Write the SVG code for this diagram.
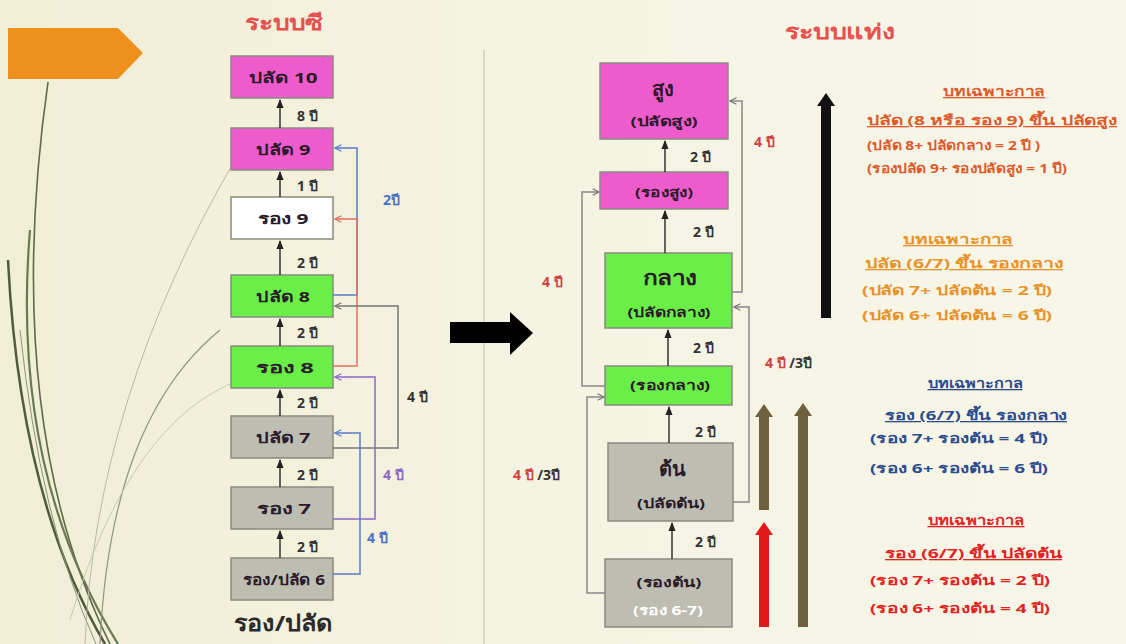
<svg xmlns="http://www.w3.org/2000/svg" width="1126" height="644" viewBox="0 0 1126 644">
<defs>
<linearGradient id="bg" x1="0" y1="0" x2="1" y2="0">
<stop offset="0" stop-color="#f1eed6"/>
<stop offset="0.5" stop-color="#f5f3e2"/>
<stop offset="1" stop-color="#f8f6e8"/>
</linearGradient>
<marker id="aDark" viewBox="0 0 10 10" refX="9" refY="5" markerWidth="6" markerHeight="6" orient="auto"><path d="M0 1 L10 5 L0 9 Z" fill="#222"/></marker>
<marker id="aGray" viewBox="0 0 10 10" refX="9" refY="5" markerWidth="8" markerHeight="8" orient="auto" markerUnits="userSpaceOnUse"><path d="M1 1 L9 5 L1 9" fill="none" stroke="#777" stroke-width="1.6"/></marker>
<marker id="aBlue" viewBox="0 0 10 10" refX="9" refY="5" markerWidth="8" markerHeight="8" orient="auto" markerUnits="userSpaceOnUse"><path d="M1 1 L9 5 L1 9" fill="none" stroke="#5a7cc8" stroke-width="1.6"/></marker>
<marker id="aRed" viewBox="0 0 10 10" refX="9" refY="5" markerWidth="8" markerHeight="8" orient="auto" markerUnits="userSpaceOnUse"><path d="M1 1 L9 5 L1 9" fill="none" stroke="#e07060" stroke-width="1.6"/></marker>
<marker id="aPurple" viewBox="0 0 10 10" refX="9" refY="5" markerWidth="8" markerHeight="8" orient="auto" markerUnits="userSpaceOnUse"><path d="M1 1 L9 5 L1 9" fill="none" stroke="#8a68c8" stroke-width="1.6"/></marker>
</defs>
<style>
text{font-family:"Noto Sans","DejaVu Sans","Liberation Sans",sans-serif;font-weight:bold}
.box{stroke:#8a8a80;stroke-width:1.5}
.mag{fill:#ee5ccc}
.grn{fill:#6aee48}
.wht{fill:#ffffff}
.gry{fill:#bdbdb2}
.bl{font-size:15px;fill:#2a1a2a;text-anchor:middle}
.bs{font-size:13px;fill:#2a1a2a;text-anchor:middle}
.bw{font-size:13px;fill:#ffffff;text-anchor:middle}
.big{font-size:20px;fill:#2a1a2a;text-anchor:middle}
.yr{font-size:14px}
.k{fill:#333333}
.rd{fill:#d04040}
.bu{fill:#4a70c8}
.pu{fill:#8a68c8}
.ln{fill:none;stroke-width:1.5}
.note{font-size:13px}
.c1{fill:#dc5a2c}
.c2{fill:#e8922c}
.c3{fill:#2c4c8c}
.c4{fill:#e02424}
.title{font-size:21px;fill:#e65050;text-anchor:middle}
</style>
<rect width="1126" height="644" fill="url(#bg)"/>
<g id="decor" fill="none">
<path d="M48 82 Q 0 420 110 644" stroke="#5d6a48" stroke-width="1.6"/>
<path d="M30 230 Q 10 470 118 644" stroke="#6a7a50" stroke-width="2.2"/>
<path d="M8 260 Q 20 500 105 644" stroke="#4e5c3c" stroke-width="2.5"/>
<path d="M20 330 Q 40 520 96 644" stroke="#8a9478" stroke-width="1"/>
<path d="M85 644 Q 95 400 235 160" stroke="#b8b8a4" stroke-width="1"/>
<path d="M100 644 Q 110 420 220 330" stroke="#8c9680" stroke-width="1.2"/>
<path d="M70 620 Q 130 420 240 380" stroke="#c8c8b8" stroke-width="1"/>
<polygon points="8,28 118,28 143,53 118,79 8,79" fill="#f0901c"/>
<line x1="484" y1="50" x2="484" y2="644" stroke="#cfcdc0" stroke-width="1.5"/>
<polygon points="450,322 510,322 510,312 533,333 510,355 510,343 450,343" fill="#000"/>
</g>
<text class="title" x="284" y="30" textLength="78" lengthAdjust="spacingAndGlyphs">ระบบซี</text>
<text class="title" x="840" y="39" textLength="110" lengthAdjust="spacingAndGlyphs">ระบบแท่ง</text>
<g id="n-p10"><rect class="box mag" x="231" y="56" width="102" height="42"/><text class="bl" x="283" y="83" textLength="69" lengthAdjust="spacingAndGlyphs">ปลัด 10</text></g>
<g id="n-p9"><rect class="box mag" x="231" y="128" width="102" height="42"/><text class="bl" x="283" y="155" textLength="55" lengthAdjust="spacingAndGlyphs">ปลัด 9</text></g>
<g id="n-r9"><rect class="box wht" x="231" y="197" width="102" height="42"/><text class="bl" x="283" y="224" textLength="51" lengthAdjust="spacingAndGlyphs">รอง 9</text></g>
<g id="n-p8"><rect class="box grn" x="231" y="275" width="102" height="42"/><text class="bl" x="283" y="302" textLength="54" lengthAdjust="spacingAndGlyphs">ปลัด 8</text></g>
<g id="n-r8"><rect class="box grn" x="231" y="346" width="102" height="42"/><text class="bl" x="285" y="373" textLength="58" lengthAdjust="spacingAndGlyphs">รอง 8</text></g>
<g id="n-p7"><rect class="box gry" x="231" y="416" width="102" height="42"/><text class="bl" x="283" y="443" textLength="55" lengthAdjust="spacingAndGlyphs">ปลัด 7</text></g>
<g id="n-r7"><rect class="box gry" x="231" y="487" width="102" height="42"/><text class="bl" x="284" y="514" textLength="54" lengthAdjust="spacingAndGlyphs">รอง 7</text></g>
<g id="n-rp6"><rect class="box gry" x="231" y="558" width="102" height="42"/><text class="bl" x="284" y="585" textLength="82" lengthAdjust="spacingAndGlyphs">รอง/ปลัด 6</text></g>
<text x="283" y="631" font-size="22" fill="#2a2a2a" text-anchor="middle" textLength="99" lengthAdjust="spacingAndGlyphs">รอง/ปลัด</text>
<g id="n-high"><rect class="box mag" x="600" y="63" width="128" height="76"/><text class="big" x="663" y="96">สูง</text><text class="bs" x="664" y="126" textLength="67" lengthAdjust="spacingAndGlyphs">(ปลัดสูง)</text></g>
<g id="n-rhigh"><rect class="box mag" x="600" y="172" width="128" height="37"/><text class="bs" x="664" y="197" textLength="58" lengthAdjust="spacingAndGlyphs">(รองสูง)</text></g>
<g id="n-mid"><rect class="box grn" x="605" y="253" width="127" height="75"/><text class="big" x="670" y="285" textLength="55" lengthAdjust="spacingAndGlyphs">กลาง</text><text class="bs" x="669" y="317" textLength="83" lengthAdjust="spacingAndGlyphs">(ปลัดกลาง)</text></g>
<g id="n-rmid"><rect class="box grn" x="605" y="366" width="127" height="39"/><text class="bs" x="670" y="390" textLength="80" lengthAdjust="spacingAndGlyphs">(รองกลาง)</text></g>
<g id="n-low"><rect class="box gry" x="608" y="443" width="125" height="78"/><text class="big" x="672" y="476">ต้น</text><text class="bs" x="671" y="508" textLength="68" lengthAdjust="spacingAndGlyphs">(ปลัดต้น)</text></g>
<g id="n-rlow"><rect class="box gry" x="605" y="559" width="127" height="68"/><text class="bs" x="669" y="587" textLength="65" lengthAdjust="spacingAndGlyphs">(รองต้น)</text><text class="bw" x="668" y="615" textLength="70" lengthAdjust="spacingAndGlyphs">(รอง 6-7)</text></g>
<g id="connectors">
<g stroke="#333" stroke-width="1.5" marker-end="url(#aDark)">
<line x1="280" y1="128" x2="280" y2="100"/>
<line x1="280" y1="197" x2="280" y2="172"/>
<line x1="280" y1="275" x2="280" y2="241"/>
<line x1="280" y1="346" x2="280" y2="319"/>
<line x1="280" y1="416" x2="280" y2="390"/>
<line x1="280" y1="487" x2="280" y2="460"/>
<line x1="280" y1="558" x2="280" y2="531"/>
<line x1="665" y1="172" x2="665" y2="141"/>
<line x1="665" y1="253" x2="665" y2="211"/>
<line x1="668" y1="366" x2="668" y2="330"/>
<line x1="669" y1="443" x2="669" y2="407"/>
<line x1="672" y1="559" x2="672" y2="523"/>
</g>
<path class="ln" d="M333 295 H357 V148 H335" stroke="#5a7cc8" marker-end="url(#aBlue)"/>
<path class="ln" d="M333 366 H357 V219 H335" stroke="#e07060" marker-end="url(#aRed)"/>
<path class="ln" d="M333 448 H398 V306 H335" stroke="#777" marker-end="url(#aGray)"/>
<path class="ln" d="M333 519 H375 V377 H335" stroke="#8a68c8" marker-end="url(#aPurple)"/>
<path class="ln" d="M333 574 H360 V433 H335" stroke="#5a7cc8" marker-end="url(#aBlue)"/>
<path class="ln" d="M732 292 H742 V101 H730" stroke="#888" marker-end="url(#aGray)"/>
<path class="ln" d="M605 386 H582 V192 H599" stroke="#888" marker-end="url(#aGray)"/>
<path class="ln" d="M605 593 H587 V397 H604" stroke="#888" marker-end="url(#aGray)"/>
<path class="ln" d="M733 502 H749 V307 H734" stroke="#888" marker-end="url(#aGray)"/>
<polygon points="821,318 821,106 817,106 826,93 835,106 831,106 831,318" fill="#111"/>
<polygon points="759,510 759,417 755,417 764,404 773,417 769,417 769,510" fill="#6e5f3e"/>
<polygon points="759,627 759,535 755,535 764,522 773,535 769,535 769,627" fill="#e41818"/>
<polygon points="798,627 798,416 794,416 803,403 812,416 808,416 808,627" fill="#6e5f3e"/>
</g>
<g id="labels" class="yr">
<text class="k" x="297" y="121">8 ปี</text>
<text class="k" x="297" y="191">1 ปี</text>
<text class="k" x="297" y="268">2 ปี</text>
<text class="k" x="297" y="338">2 ปี</text>
<text class="k" x="297" y="408">2 ปี</text>
<text class="k" x="297" y="480">2 ปี</text>
<text class="k" x="297" y="552">2 ปี</text>
<text class="bu" x="383" y="205">2ปี</text>
<text class="k" x="407" y="402">4 ปี</text>
<text class="pu" x="383" y="480">4 ปี</text>
<text class="bu" x="367" y="543">4 ปี</text>
<text class="k" x="690" y="162">2 ปี</text>
<text class="k" x="693" y="237">2 ปี</text>
<text class="k" x="693" y="353">2 ปี</text>
<text class="k" x="695" y="437">2 ปี</text>
<text class="k" x="695" y="547">2 ปี</text>
<text class="rd" x="754" y="147">4 ปี</text>
<text class="rd" x="542" y="287">4 ปี</text>
<text class="k" x="513" y="480"><tspan class="rd">4 ปี</tspan> /3ปี</text>
<text class="k" x="765" y="368"><tspan class="rd">4 ปี</tspan> /3ปี</text>
</g>
<g id="notes" class="note">
<text class="c1" x="994" y="96" text-anchor="middle" text-decoration="underline" textLength="102" lengthAdjust="spacingAndGlyphs">บทเฉพาะกาล</text>
<text class="c1" x="867" y="125" text-decoration="underline" textLength="250" lengthAdjust="spacingAndGlyphs">ปลัด (8 หรือ รอง 9) ขึ้น ปลัดสูง</text>
<text class="c1" x="867" y="150" textLength="173" lengthAdjust="spacingAndGlyphs">(ปลัด 8+ ปลัดกลาง = 2 ปี )</text>
<text class="c1" x="867" y="173" textLength="200" lengthAdjust="spacingAndGlyphs">(รองปลัด 9+ รองปลัดสูง = 1 ปี)</text>
<text class="c2" x="958" y="244" text-anchor="middle" text-decoration="underline" textLength="110" lengthAdjust="spacingAndGlyphs">บทเฉพาะกาล</text>
<text class="c2" x="865" y="268" text-decoration="underline" textLength="198" lengthAdjust="spacingAndGlyphs">ปลัด (6/7) ขึ้น รองกลาง</text>
<text class="c2" x="862" y="295" textLength="190" lengthAdjust="spacingAndGlyphs">(ปลัด 7+ ปลัดต้น = 2 ปี)</text>
<text class="c2" x="862" y="320" textLength="190" lengthAdjust="spacingAndGlyphs">(ปลัด 6+ ปลัดต้น = 6 ปี)</text>
<text class="c3" x="975" y="388" text-anchor="middle" text-decoration="underline" textLength="95" lengthAdjust="spacingAndGlyphs">บทเฉพาะกาล</text>
<text class="c3" x="885" y="420" text-decoration="underline" textLength="182" lengthAdjust="spacingAndGlyphs">รอง (6/7) ขึ้น รองกลาง</text>
<text class="c3" x="870" y="443" textLength="178" lengthAdjust="spacingAndGlyphs">(รอง 7+ รองต้น = 4 ปี)</text>
<text class="c3" x="870" y="473" textLength="178" lengthAdjust="spacingAndGlyphs">(รอง 6+ รองต้น = 6 ปี)</text>
<text class="c4" x="976" y="525" text-anchor="middle" text-decoration="underline" textLength="97" lengthAdjust="spacingAndGlyphs">บทเฉพาะกาล</text>
<text class="c4" x="885" y="558" text-decoration="underline" textLength="177" lengthAdjust="spacingAndGlyphs">รอง (6/7) ขึ้น ปลัดต้น</text>
<text class="c4" x="870" y="585" textLength="180" lengthAdjust="spacingAndGlyphs">(รอง 7+ รองต้น = 2 ปี)</text>
<text class="c4" x="870" y="613" textLength="180" lengthAdjust="spacingAndGlyphs">(รอง 6+ รองต้น = 4 ปี)</text>
</g>
</svg>
